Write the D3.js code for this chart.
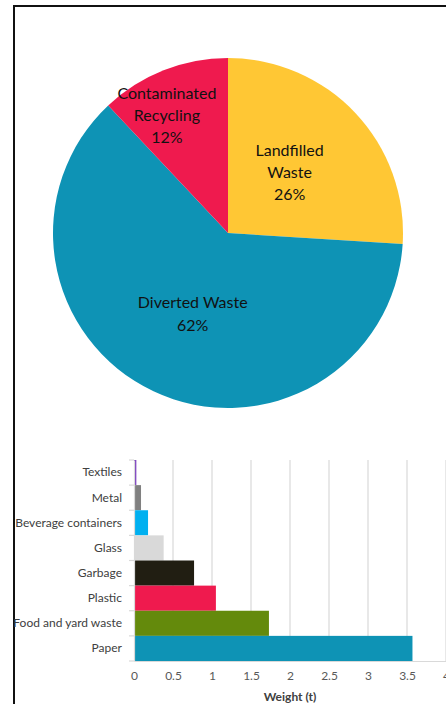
<!DOCTYPE html>
<html>
<head>
<meta charset="utf-8">
<script src="https://cdn.jsdelivr.net/npm/d3@7"></script>
<style>
  html, body { margin: 0; padding: 0; background: #fff; }
  svg { display: block; font-family: Lato, "Open Sans", sans-serif; }
</style>
</head>
<body>
<svg id="chart" width="446" height="704"></svg>
<script>
// Share of waste stream (pie)
const pieLabels = [["Landfilled", "Waste"], ["Diverted Waste"], ["Contaminated", "Recycling"]];
const pieValues = [26, 62, 12];
const pieColors = ["#FFC734", "#0E93B5", "#EF1A4E"];

// Weight by material (bars)
const materials = ["Textiles", "Metal", "Beverage containers", "Glass", "Garbage", "Plastic", "Food and yard waste", "Paper"];
const weights = [0.03, 0.09, 0.18, 0.38, 0.77, 1.05, 1.73, 3.57];
const barColors = ["#7B3FBF", "#808080", "#00B0F0", "#D9D9D9", "#211E12", "#EF1A4E", "#648A0C", "#0E93B5"];
const xTicks = [0, 0.5, 1, 1.5, 2, 2.5, 3, 3.5, 4];

const svg = d3.select("#chart");

// Outer frame
svg.append("rect")
  .attr("x", 14).attr("y", 6)
  .attr("width", 460).attr("height", 720)
  .attr("fill", "none").attr("stroke", "#111").attr("stroke-width", 2);

// ---- Pie ----
const cx = 228, cy = 233, r = 175;
const pie = d3.pie().sort(null).value(d => d)(pieValues);
const arc = d3.arc().innerRadius(0).outerRadius(r);
const gPie = svg.append("g").attr("transform", `translate(${cx},${cy})`);
gPie.selectAll("path").data(pie).enter().append("path")
  .attr("d", arc)
  .attr("fill", (d, i) => pieColors[i]);

// label anchor: point along the slice bisector, then a small nudge
const labelR = [0.42, 0.46, 0.70];
const labelShift = [[8, -27], [-1, 2], [-16, -20]];
const lineGap = [22, 23, 22];
pie.forEach((d, i) => {
  const a = (d.startAngle + d.endAngle) / 2;
  const lx = Math.sin(a) * r * labelR[i] + labelShift[i][0];
  const ly = -Math.cos(a) * r * labelR[i] + labelShift[i][1];
  const lines = pieLabels[i].concat([pieValues[i] + "%"]);
  const t = gPie.append("text")
    .attr("text-anchor", "middle")
    .attr("font-size", 16)
    .attr("fill", "#111");
  lines.forEach((s, j) => {
    t.append("tspan").attr("x", lx).attr("y", ly + j * lineGap[i]).text(s);
  });
});

// ---- Bars ----
const m = { left: 134, right: 446, top: 460, bottom: 661 };
const x = d3.scaleLinear().domain([0, 4]).range([m.left, m.right]);
const y = d3.scaleBand().domain(materials).range([m.top, m.bottom]).padding(0);

// gridlines
svg.append("g").selectAll("line").data(xTicks.slice(1)).enter().append("line")
  .attr("x1", d => x(d)).attr("x2", d => x(d))
  .attr("y1", m.top).attr("y2", m.bottom)
  .attr("stroke", "#D9D9D9").attr("stroke-width", 1.2);

svg.append("g").selectAll("rect").data(materials).enter().append("rect")
  .attr("x", x(0))
  .attr("y", d => y(d))
  .attr("width", (d, i) => x(weights[i]) - x(0))
  .attr("height", y.bandwidth())
  .attr("fill", (d, i) => barColors[i]);

// x axis
const xAxis = svg.append("g").attr("transform", `translate(0,${m.bottom})`)
  .call(d3.axisBottom(x).tickValues(xTicks).tickFormat(d3.format("")).tickSize(0).tickPadding(10));
xAxis.select(".domain").attr("stroke", "#D9D9D9").attr("stroke-width", 1.2);
xAxis.selectAll("text").attr("font-size", 12).attr("fill", "#595959").attr("font-family", "Lato, sans-serif");

// y axis
const yAxis = svg.append("g").attr("transform", `translate(${m.left},0)`)
  .call(d3.axisLeft(y).tickSize(0).tickPadding(12));
yAxis.select(".domain").attr("stroke", "#D9D9D9").attr("stroke-width", 1.2);
yAxis.selectAll("text").attr("font-size", 12).attr("fill", "#404040").attr("font-family", "Lato, sans-serif");
// small boundary ticks between categories
svg.append("g").selectAll("line").data(materials.concat(["end"])).enter().append("line")
  .attr("x1", m.left - 5).attr("x2", m.left)
  .attr("y1", (d, i) => m.top + i * y.bandwidth())
  .attr("y2", (d, i) => m.top + i * y.bandwidth())
  .attr("stroke", "#D9D9D9").attr("stroke-width", 1.2);

svg.append("text")
  .attr("x", (x(0) + x(4)) / 2).attr("y", 701)
  .attr("text-anchor", "middle")
  .attr("font-size", 12).attr("font-weight", "bold").attr("fill", "#404040")
  .text("Weight (t)");
</script>
</body>
</html>
